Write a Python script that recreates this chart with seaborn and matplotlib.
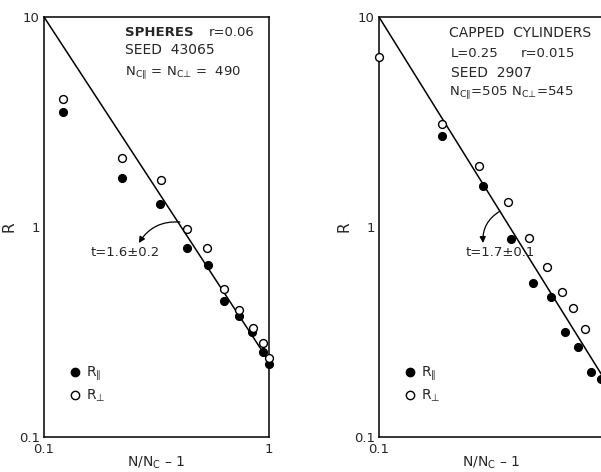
import numpy as np
import pandas as pd
import matplotlib
matplotlib.use("Agg")
import matplotlib.pyplot as plt
import seaborn as sns
from matplotlib.lines import Line2D

sns.set_style("white")
plt.rcParams['font.family'] = ['DejaVu Sans']
plt.rcParams['mathtext.default'] = 'regular'

# ---------------- data: SPHERES ----------------
sph_x_par = [0.122, 0.223, 0.329, 0.434, 0.536, 0.633, 0.733, 0.843, 0.940, 0.997]
sph_R_par = [3.54, 1.71, 1.28, 0.792, 0.659, 0.444, 0.377, 0.315, 0.255, 0.223]
sph_x_perp = [0.122, 0.223, 0.331, 0.434, 0.530, 0.633, 0.736, 0.846, 0.940, 0.997]
sph_R_perp = [4.07, 2.12, 1.67, 0.978, 0.792, 0.505, 0.403, 0.331, 0.279, 0.238]
sph_fit_x = [0.1, 1.0]
sph_fit_R = [10.0, 0.229]

# ---------------- data: CAPPED CYLINDERS ----------------
cyl_x_par = [0.191, 0.289, 0.386, 0.485, 0.580, 0.673, 0.764, 0.873, 0.970]
cyl_R_par = [2.71, 1.57, 0.877, 0.540, 0.465, 0.317, 0.269, 0.205, 0.189]
cyl_x_perp = [0.100, 0.191, 0.279, 0.376, 0.464, 0.556, 0.649, 0.731, 0.821]
cyl_R_perp = [6.43, 3.09, 1.95, 1.315, 0.886, 0.643, 0.492, 0.413, 0.328]
cyl_fit_x = [0.1, 1.0]
cyl_fit_R = [10.0, 0.19]

x_ticklabels_left = ['0.1', '1']
x_ticklabels_right = ['0.1', '']   # the "1" falls outside the picture
y_ticklabels = ['0.1', '1', '10']

W, H = 601, 472
fig = plt.figure(figsize=(W / 100, H / 100), dpi=100)
axw = 225 / W
axh = 420 / H
bot = (H - 437) / H
axL = fig.add_axes([44 / W, bot, axw, axh])
axR = fig.add_axes([379 / W, bot, axw, axh])

FS = 9.5

def draw(ax, xp, rp, xq, rq, fx, fr, xtl):
    sns.lineplot(x=fx, y=fr, ax=ax, color='black', linewidth=1.1, legend=False)
    sns.scatterplot(x=xp, y=rp, ax=ax, color='black', edgecolor='black',
                    s=32, linewidth=0.9, zorder=3, clip_on=False, legend=False)
    sns.scatterplot(x=xq, y=rq, ax=ax, facecolor='white', edgecolor='black',
                    s=32, linewidth=1.0, zorder=4, clip_on=False, legend=False)
    ax.set_xscale('log')
    ax.set_yscale('log')
    ax.set_xlim(0.1, 1.0)
    ax.set_ylim(0.1, 10)
    ax.set_xticks([0.1, 1.0])
    ax.set_xticklabels(xtl)
    ax.set_xticks([0.2, 0.5], minor=True)
    ax.set_xticklabels([], minor=True)
    ax.set_yticks([0.1, 1, 10])
    ax.set_yticklabels(y_ticklabels)
    ax.set_yticks([], minor=True)
    ax.tick_params(axis='both', which='both', direction='in', length=6,
                   width=1.0, labelsize=FS, color='black')
    ax.tick_params(axis='x', which='major', length=0, pad=4)
    ax.tick_params(axis='y', which='major', pad=3)
    for sp in ax.spines.values():
        sp.set_visible(True)
        sp.set_color('black')
        sp.set_linewidth(1.1)
    ax.set_xlabel('N/N$_{C}$ \u2013 1', fontsize=10, labelpad=-1)
    ax.set_ylabel('R', fontsize=11, labelpad=2)
    handles = [
        Line2D([], [], marker='o', linestyle='none', markerfacecolor='black',
               markeredgecolor='black', markersize=6),
        Line2D([], [], marker='o', linestyle='none', markerfacecolor='white',
               markeredgecolor='black', markersize=6),
    ]
    ax.legend(handles, ['R$_{\u2225}$', 'R$_{\u22a5}$'], loc='lower left',
              bbox_to_anchor=(0.07, 0.055), frameon=False, fontsize=10,
              handlelength=0.8, handletextpad=0.4, labelspacing=0.35,
              borderpad=0.2)

draw(axL, sph_x_par, sph_R_par, sph_x_perp, sph_R_perp, sph_fit_x, sph_fit_R,
     x_ticklabels_left)
draw(axR, cyl_x_par, cyl_R_par, cyl_x_perp, cyl_R_perp, cyl_fit_x, cyl_fit_R,
     x_ticklabels_right)

# text blocks
tx = 0.36
axL.text(tx, 0.962, 'SPHERES', transform=axL.transAxes, fontsize=FS,
         fontweight='bold', va='center', ha='left')
axL.text(0.73, 0.962, 'r=0.06', transform=axL.transAxes, fontsize=FS,
         va='center', ha='left')
axL.text(tx, 0.921, 'SEED  43065', transform=axL.transAxes, fontsize=10,
         va='center', ha='left')
axL.text(tx, 0.867, 'N$_{C\u2225}$ = N$_{C\u22a5}$ =  490', transform=axL.transAxes,
         fontsize=FS, va='center', ha='left')

tr = 0.311
axR.text(tr, 0.962, 'CAPPED  CYLINDERS', transform=axR.transAxes, fontsize=10,
         va='center', ha='left')
axR.text(tr + 0.01, 0.914, 'L=0.25', transform=axR.transAxes, fontsize=FS,
         va='center', ha='left')
axR.text(0.628, 0.914, 'r=0.015', transform=axR.transAxes, fontsize=FS,
         va='center', ha='left')
axR.text(tr + 0.01, 0.867, 'SEED  2907', transform=axR.transAxes, fontsize=10,
         va='center', ha='left')
axR.text(tr, 0.819, 'N$_{C\u2225}$=505 N$_{C\u22a5}$=545', transform=axR.transAxes,
         fontsize=FS, va='center', ha='left')

# slope annotations
axL.annotate('', xy=(0.264, 0.839), xytext=(0.402, 1.056),
             arrowprops=dict(arrowstyle='-|>', color='black', lw=0.9,
                             connectionstyle='arc3,rad=0.3',
                             shrinkA=0, shrinkB=0, mutation_scale=9))
axL.text(0.229, 0.76, 't=1.6\u00b10.2', fontsize=FS, ha='center', va='center')

axR.annotate('', xy=(0.290, 0.839), xytext=(0.345, 1.19),
             arrowprops=dict(arrowstyle='-|>', color='black', lw=0.9,
                             connectionstyle='arc3,rad=0.3',
                             shrinkA=0, shrinkB=0, mutation_scale=9))
axR.text(0.345, 0.76, 't=1.7\u00b10.1', fontsize=FS, ha='center', va='center')

fig.savefig('out.png', dpi=100)
